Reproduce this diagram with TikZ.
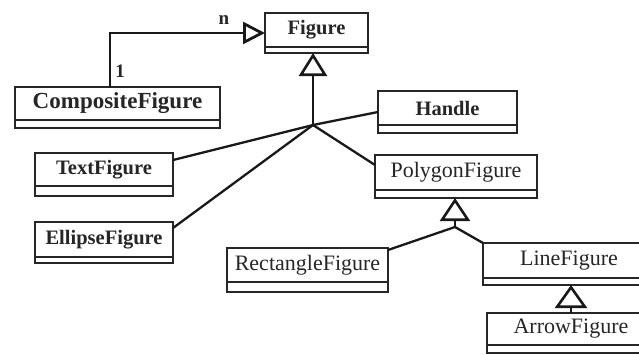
\documentclass[tikz,border=0pt]{standalone}
\usepackage{fontspec}
\setmainfont{Liberation Serif}
\usetikzlibrary{arrows.meta}

% A UML class: name, left, top, right, divider, bottom, label style, label
\newcommand\umlclass[8]{%
  \node[classbox, anchor=north west, minimum width={#4-#2}, minimum height={#6-#3}] (#1) at (#2,#3) {};
  \draw[ink] (#2,#5) -- (#4,#5);
  \node[#7] (#1-label) at ({(#2+#4)/2},{(#3+#5)/2}) {#8};
}

\begin{document}
\begin{tikzpicture}[x=1pt, y=-1pt,
  ink/.style={draw=black!85, line width=1.8pt},
  classbox/.style={ink, fill=white, inner sep=0pt, outer sep=0pt},
  boldname/.style={font=\fontsize{20.5}{24}\selectfont\bfseries, text=black!85, inner sep=0pt},
  bigname/.style={font=\fontsize{23}{27}\selectfont\bfseries, text=black!85, inner sep=0pt},
  plainname/.style={font=\fontsize{22}{26}\selectfont, text=black!85, inner sep=0pt},
  mult/.style={font=\fontsize{19}{22}\selectfont\bfseries, text=black!85, inner sep=0pt},
  link/.style={draw=black!90, line width=2.3pt},
  isa/.style={link, -{Triangle[open, fill=white, length=23pt, width=#1, line width=2.6pt]}},
  isa/.default=28pt,
  agg/.style={draw=black!90, line width=2.8pt, -{Triangle[open, fill=white, length=22pt, width=22pt, line width=2.8pt]}}
]
\useasboundingbox[fill=white] (0,0) rectangle (639,354);

% classes
\umlclass{fig}{265}{13}{368}{47}{53}{boldname}{Figure}
\umlclass{comp}{15}{87}{220}{120}{128}{bigname}{CompositeFigure}
\umlclass{handle}{378}{91}{517}{125}{133}{boldname}{Handle}
\umlclass{textfig}{35}{153}{173}{186}{196}{boldname}{TextFigure}
\umlclass{poly}{375}{155}{537}{190}{198}{plainname}{PolygonFigure}
\umlclass{ellfig}{35}{222}{173}{257}{263}{boldname}{EllipseFigure}
\umlclass{rectfig}{227}{248}{388}{282}{292}{plainname}{RectangleFigure}
\umlclass{linefig}{483}{243}{655}{278}{285}{plainname}{LineFigure}
\umlclass{arrowfig}{487}{313}{655}{345}{353}{plainname}{ArrowFigure}

% composite aggregates figures
\draw[agg] (110,87) |- (fig.west);
\node[mult] (mn) at (224,20) {n};
\node[mult] (m1) at (120,71) {1};

% subclasses of Figure
\coordinate (j1) at (313,125);
\draw[isa] (j1) -- (j1 |- fig.south);
\draw[link] (j1) -- (handle.west);
\draw[link] (j1) -- ([yshift=-7pt]textfig.north east);
\draw[link] (j1) -- ([yshift=-6pt]ellfig.north east);
\draw[link] (j1) -- ([yshift=-10pt]poly.north west);

% subclasses of PolygonFigure
\coordinate (j2) at (455,227);
\draw[isa=30pt] (j2) -- (j2 |- poly.south);
\draw[link] (j2) -- ([yshift=-2pt]rectfig.north east);
\draw[link] (j2) -- (linefig.north west);

% ArrowFigure extends LineFigure
\draw[isa=32pt] (arrowfig.north) -- (arrowfig.north |- linefig.south);
\end{tikzpicture}
\end{document}
